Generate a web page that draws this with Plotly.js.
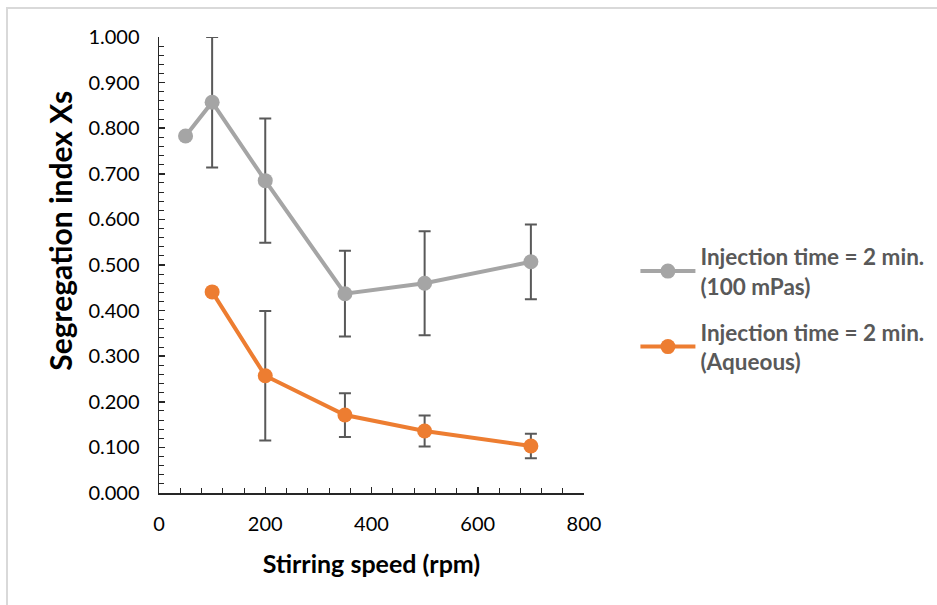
<!DOCTYPE html>
<html>
<head>
<meta charset="utf-8">
<script src="https://cdn.plot.ly/plotly-3.0.1.min.js"></script>
<style>
  html, body { margin: 0; padding: 0; background: #fff; overflow: hidden; }
  #wrap { position: relative; width: 937px; height: 605px; }
  #chart { position: absolute; left: 0; top: 0; width: 937px; height: 605px; }
  #frame { position: absolute; left: 6px; top: 7px; width: 960px; height: 640px;
           border: 2px solid #d9d9d9; box-sizing: border-box; pointer-events: none; }
</style>
</head>
<body>
<div id="wrap">
  <div id="chart"></div>
  <div id="frame"></div>
</div>
<script>
// Stirring speeds (rpm)
const speedViscous = [50, 100, 200, 350, 500, 700];
const speedAqueous = [100, 200, 350, 500, 700];

// Segregation index Xs
const xsViscous = [0.783, 0.857, 0.685, 0.437, 0.460, 0.507];
const xsAqueous = [0.441, 0.257, 0.171, 0.136, 0.103];

// Error bar half-widths (NaN = no bar)
const errViscous = [NaN, 0.143, 0.136, 0.094, 0.114, 0.082];
const errAqueous = [NaN, 0.142, 0.048, 0.034, 0.027];

const seriesNames = [
  'Injection time = 2 min.<br>(100 mPas)',
  'Injection time = 2 min.<br>(Aqueous)'
];
const xTitle = 'Stirring speed (rpm)';
const yTitle = 'Segregation index Xs';

const FONT = 'Lato, "Open Sans", sans-serif';

function errStyle(arr) {
  return { type: 'data', array: arr, visible: true, color: '#595959', thickness: 2, width: 6 };
}

const traces = [
  {
    x: speedViscous, y: xsViscous, name: seriesNames[0], legendgroup: 'viscous',
    type: 'scatter', mode: 'lines+markers',
    line: { color: '#A5A5A5', width: 4 },
    marker: { color: '#A5A5A5', size: 15 },
    error_y: errStyle(errViscous)
  },
  {
    x: speedAqueous, y: xsAqueous, name: seriesNames[1], legendgroup: 'aqueous',
    type: 'scatter', mode: 'lines+markers',
    line: { color: '#ED7D31', width: 4 },
    marker: { color: '#ED7D31', size: 15 },
    error_y: errStyle(errAqueous)
  }
];

const layout = {
  width: 937, height: 605,
  margin: { l: 159, r: 353, t: 37, b: 112, autoexpand: false },
  paper_bgcolor: '#fff', plot_bgcolor: '#fff',
  font: { family: FONT, color: '#000', size: 20 },
  showlegend: true,
  legend: {
    x: 1.121, xanchor: 'left', y: 0.565, yanchor: 'top',
    font: { family: FONT, size: 22.5, color: '#595959', weight: 'bold' },
    tracegroupgap: 14, itemwidth: 55
  },
  xaxis: {
    range: [0, 800], dtick: 200, tick0: 0,
    showgrid: false, zeroline: false,
    showline: true, linecolor: '#262626', linewidth: 1.5,
    ticks: 'inside', ticklen: 6, tickwidth: 1.5, tickcolor: '#262626',
    minor: { dtick: 40, ticks: 'inside', ticklen: 5, tickwidth: 1, tickcolor: '#262626', showgrid: false },
    tickfont: { family: FONT, size: 20, color: '#000' },
    ticklabelstandoff: 12,
    title: { text: '<b>' + xTitle + '</b>', font: { family: FONT, size: 25, color: '#000' }, standoff: 22 },
    automargin: false, fixedrange: true
  },
  yaxis: {
    range: [0, 1], dtick: 0.1, tick0: 0, tickformat: '.3f',
    showgrid: false, zeroline: false,
    showline: true, linecolor: '#262626', linewidth: 1.5,
    ticks: 'inside', ticklen: 6, tickwidth: 1.5, tickcolor: '#262626',
    minor: { dtick: 0.02, ticks: 'inside', ticklen: 5, tickwidth: 1, tickcolor: '#262626', showgrid: false },
    tickfont: { family: FONT, size: 20, color: '#000' },
    ticklabelstandoff: 14,
    automargin: false, fixedrange: true
  },
  // Y-axis title sits a little above the axis midpoint, so it is placed as an annotation
  annotations: [{
    text: '<b>' + yTitle + '</b>', textangle: -90,
    xref: 'paper', yref: 'paper', x: -0.233, y: 0.575,
    xanchor: 'center', yanchor: 'middle', showarrow: false,
    font: { family: FONT, size: 30, color: '#000' }
  }]
};

Plotly.newPlot('chart', traces, layout, { displayModeBar: false, staticPlot: true });
</script>
</body>
</html>
